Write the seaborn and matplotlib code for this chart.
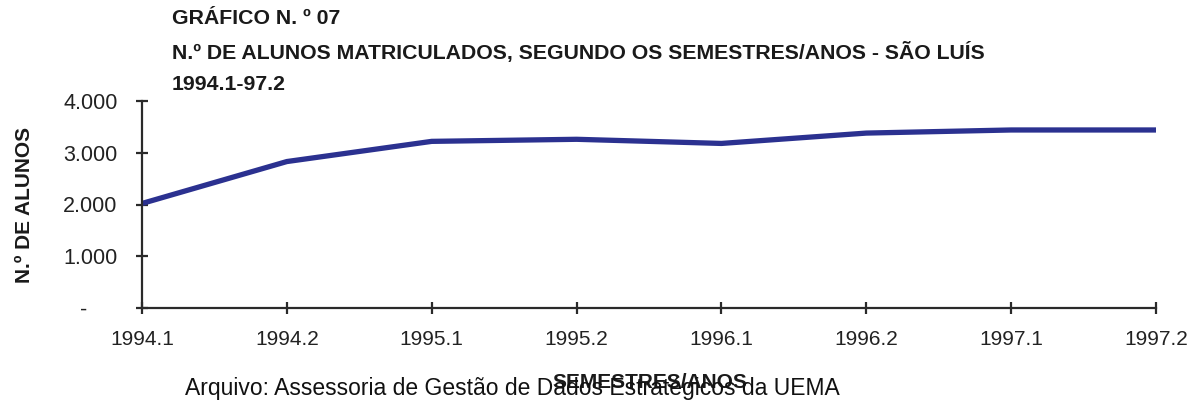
import matplotlib
matplotlib.use("Agg")
import matplotlib.pyplot as plt
import pandas as pd
import seaborn as sns

# values
semestres = ["1994.1", "1994.2", "1995.1", "1995.2", "1996.1", "1996.2", "1997.1", "1997.2"]
alunos = [2020, 2830, 3220, 3260, 3180, 3380, 3440, 3440]
yticks = [0, 1000, 2000, 3000, 4000]
ytick_labels = ["-     ", "1.000", "2.000", "3.000", "4.000"]

sns.set_theme(style="white")
plt.rcParams["font.family"] = ["Liberation Sans", "DejaVu Sans"]

df = pd.DataFrame({"pos": range(len(semestres)), "alunos": alunos})

fig = plt.figure(figsize=(11.95, 4.0), dpi=100)
ax = fig.add_axes([142 / 1195, 1 - 308 / 400, (1156 - 142) / 1195, (308 - 101) / 400])

sns.lineplot(data=df, x="pos", y="alunos", ax=ax, color="#2b3190", linewidth=3.8,
             solid_capstyle="round")

ax.set_xlim(0, len(semestres) - 1)
ax.set_ylim(0, 4000)
ax.set_xticks(df["pos"])
ax.set_xticklabels(semestres)
ax.set_yticks(yticks)
ax.set_yticklabels(ytick_labels)

ink = "#2a2a2a"
for side in ["top", "right"]:
    ax.spines[side].set_visible(False)
for side in ["left", "bottom"]:
    ax.spines[side].set_color(ink)
    ax.spines[side].set_linewidth(1.6)
    ax.spines[side].set_clip_on(False)

ax.tick_params(axis="both", bottom=True, left=True, direction="inout", length=9, width=1.6,
               color=ink, labelcolor="#222222")
ax.tick_params(axis="y", pad=13, labelsize=15.5)
ax.tick_params(axis="x", pad=11, labelsize=15)

ax.set_xlabel("")
ax.set_ylabel("")
fig.text(25 / 1195, 1 - 205 / 400, "N.º DE ALUNOS", rotation=90, ha="center", va="center",
         fontsize=15, fontweight="bold", color="#1a1a1a")
fig.text(650 / 1195, 1 - 383 / 400, "SEMESTRES/ANOS", ha="center", va="center",
         fontsize=15, fontweight="bold", color="#1a1a1a")
fig.text(185 / 1195, 1 - 389 / 400, "Arquivo: Assessoria de Gestão de Dados Estratégicos da UEMA",
         ha="left", va="center", fontsize=16.5, color="#111111")

titles = ["GRÁFICO N. º 07",
          "N.º DE ALUNOS MATRICULADOS, SEGUNDO OS SEMESTRES/ANOS - SÃO LUÍS",
          "1994.1-97.2"]
for i, t in enumerate(titles):
    fig.text(172 / 1195, 1 - (19 + 33 * i) / 400, t, ha="left", va="center",
             fontsize=15.3, fontweight="bold", color="#1a1a1a")

fig.savefig("out.png", dpi=100, facecolor="white")
